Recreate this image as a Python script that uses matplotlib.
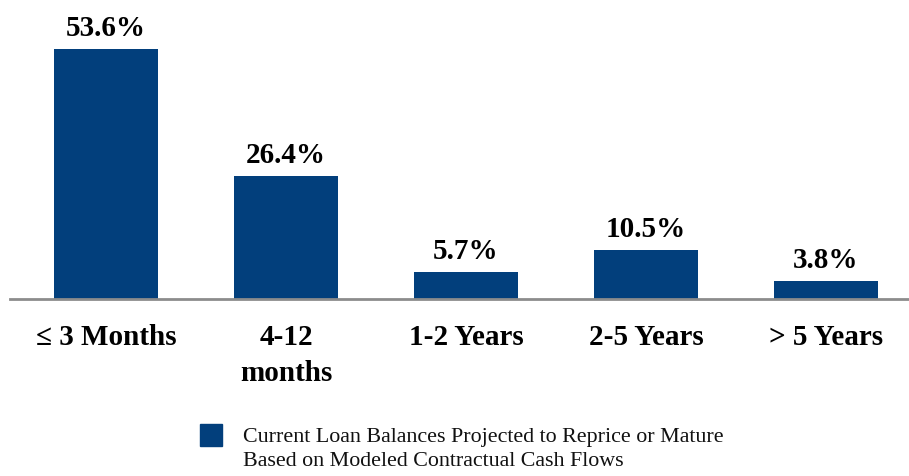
import matplotlib
matplotlib.use('Agg')
import matplotlib.pyplot as plt
from matplotlib.patches import Rectangle

categories = ['\u2264 3 Months', '4-12\nmonths', '1-2 Years', '2-5 Years', '> 5 Years']
values = [53.6, 26.4, 5.7, 10.5, 3.8]
series_name = 'Current Loan Balances Projected to Reprice or Mature\nBased on Modeled Contractual Cash Flows'

navy = '#023F7C'
plt.rcParams['font.family'] = ['Liberation Serif', 'DejaVu Serif']

W, H = 909, 476
fig = plt.figure(figsize=(W / 100, H / 100), dpi=100)
# axes: left edge at x=10px, right at 909px, bottom at y=299px from top
ax = fig.add_axes([10 / W, 1 - 299 / H, 899 / W, 299 / H])

x = list(range(len(categories)))
bars = ax.bar(x, values, width=0.578, color=navy, zorder=2)
ax.set_xlim(-0.533, 4.461)
ax.set_ylim(0, 64.2)

for xi, v in zip(x, values):
    ax.text(xi, v + 1.6, '%.1f%%' % v, ha='center', va='bottom',
            fontsize=21, fontweight='bold', color='black')

for s in ['top', 'right', 'left']:
    ax.spines[s].set_visible(False)
ax.spines['bottom'].set_color('#8c8c8c')
ax.spines['bottom'].set_linewidth(2)
ax.set_yticks([])
ax.set_xticks(x)
ax.set_xticklabels(categories, fontsize=21, fontweight='bold', linespacing=1.45)
ax.tick_params(axis='x', length=0, pad=18)

# legend: square next to the first line of a two-line label
fig.add_artist(Rectangle((200 / W, 1 - 446 / H), 22 / W, 22 / H,
                         transform=fig.transFigure, color=navy))
fig.text(243 / W, 1 - 428 / H, series_name, ha='left', va='top',
         fontsize=15.8, linespacing=1.38, color='#111111')

fig.savefig('out.png', dpi=100)
